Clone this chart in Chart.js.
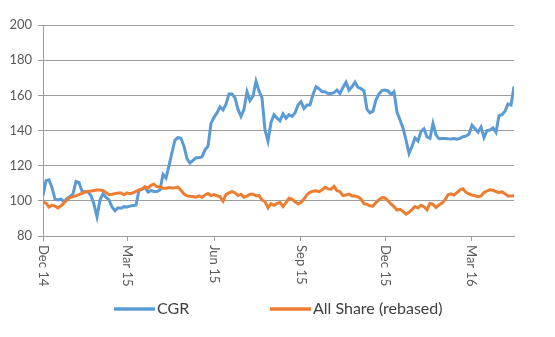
<!DOCTYPE html>
<html>
<head>
<meta charset="utf-8">
<script src="https://cdn.jsdelivr.net/npm/chart.js@4/dist/chart.umd.min.js"></script>
<style>
  html, body { margin: 0; padding: 0; background: #fff; }
</style>
</head>
<body>
<canvas id="myChart" width="555" height="337"></canvas>
<script>
'use strict'

// CGR vs All Share, rebased to 100 at Dec 14 (one point every couple of trading days)
var cgr = [
  103, 111.5, 112, 107.5, 101, 100.5, 101, 99.5, 101.4, 102.4,
  104, 111, 110.5, 105.5, 105.3, 105, 103, 98, 91, 100.5,
  104, 102, 100.5, 96.5, 94.3, 96, 95.8, 96.7, 96.5, 97,
  97.3, 97.5, 106, 106.5, 107.7, 105, 105.8, 105.3, 105.3, 106.2,
  115, 113, 120, 127.5, 134.6, 136, 135.5, 131, 124, 121.5,
  123, 124.5, 124.5, 125, 129, 131, 144, 147.5, 150, 153.5,
  151.7, 155, 160.8, 160.8, 158.5, 152, 148, 152, 162, 157,
  159.5, 168, 162.5, 158.5, 140.3, 134, 144.5, 149, 147, 145.5,
  149.5, 147, 149, 148, 150, 154.5, 156.4, 152.5, 154.5, 154.5,
  160.5, 164.9, 163.8, 162, 162, 161, 161, 161.5, 163, 161,
  164.5, 167.5, 163, 164.9, 167.5, 164.5, 163.8, 162.5, 152, 150,
  151, 157.5, 160.8, 162.7, 163, 162.5, 160.5, 162, 150.5, 146,
  141.5, 134.6, 127, 131, 135.7, 134, 139.5, 141, 136.3, 135.5,
  144, 137.5, 135.3, 135.5, 135.5, 135.3, 135.2, 135.4, 135, 135.5,
  136.5, 136.8, 138, 143, 141, 139, 142, 136, 140, 140.3,
  141.5, 139, 148.5, 149, 151, 155, 154.5, 165
]

var allShare = [
  99.5, 98.6, 96.5, 97.5, 97, 96, 97.2, 98.8, 100.5, 101.8,
  102.4, 102.8, 103.6, 104.3, 105, 105.4, 105.6, 105.9, 106.2, 106.2,
  105.8, 104.8, 103.5, 103.7, 104.1, 104.5, 104.5, 103.5, 104.5, 104,
  104.5, 105.4, 106.2, 106.6, 108, 107.2, 108.8, 109.5, 108, 108,
  107.2, 107.1, 107.6, 107.3, 107.5, 107.8, 106, 103.8, 102.8, 102.6,
  102.5, 102.1, 102.8, 102, 103.3, 104.2, 103, 103.6, 102.9, 102.4,
  99.8, 103.5, 104.5, 105.2, 104.6, 103, 103.7, 102, 102.6, 103.8,
  103.8, 102.9, 103, 100.5, 99.5, 96, 98.4, 97.5, 98.5, 99,
  96.8, 99, 101.5, 101, 99.5, 98.3, 99, 101, 103.5, 104.8,
  105.5, 105.7, 105.2, 106.2, 107.7, 106.8, 106.6, 108.3, 105.8, 105.2,
  103, 103.3, 103.8, 102.8, 102.7, 102.3, 101, 98.4, 98, 97.2,
  97, 99, 100.7, 101.8, 101.6, 100, 98.2, 96.7, 94.8, 95.2,
  94, 92.4, 93.5, 95, 96.8, 96, 97.5, 96.7, 94.9, 98.6,
  98, 96.2, 97.6, 98.7, 100.5, 103.4, 104, 103.3, 104.7, 106.2,
  106.8, 104.8, 104, 103.3, 102.9, 102.4, 102.8, 104.7, 105.6, 106.3,
  106, 105.3, 104.7, 105.1, 104, 102.8, 102.8, 102.9
]

// quarter markers on the x axis (position in the series)
var tickPos = [0, 28.2, 57, 85.9, 114.2, 142.7]
var tickLabels = ['Dec 14', 'Mar 15', 'Jun 15', 'Sep 15', 'Dec 15', 'Mar 16']

var seriesNames = ['CGR', 'All Share (rebased)']
var seriesColors = ['#5B9BD5', '#ED7D31']

function toPoints(arr) {
  return arr.map(function(v, i) { return { x: i, y: v } })
}

var gridGrey = '#9d9d9d'
var textGrey = '#595959'

// x labels read top-to-bottom and the legend sits under them, so draw both by hand
var extrasPlugin = {
  id: 'extras',
  afterDraw: function(chart) {
    var ctx = chart.ctx
    var xs = chart.scales.x
    ctx.save()
    ctx.fillStyle = textGrey
    ctx.font = '13px Lato'
    ctx.textAlign = 'left'
    ctx.textBaseline = 'middle'
    tickPos.forEach(function(v, i) {
      ctx.save()
      ctx.translate(xs.getPixelForValue(v), chart.chartArea.bottom + 9)
      ctx.rotate(Math.PI / 2)
      ctx.fillText(tickLabels[i], 0, 0)
      ctx.restore()
    })

    var legendX = [114, 270]
    var legendY = 309
    ctx.font = '16px Lato'
    ctx.fillStyle = '#404040'
    seriesNames.forEach(function(name, i) {
      ctx.beginPath()
      ctx.strokeStyle = seriesColors[i]
      ctx.lineWidth = 3.5
      ctx.moveTo(legendX[i], legendY)
      ctx.lineTo(legendX[i] + 41, legendY)
      ctx.stroke()
      ctx.fillText(name, legendX[i] + 43, legendY)
    })
    ctx.restore()
  }
}

var ctx = document.getElementById('myChart').getContext('2d')
var chart = new Chart(ctx, {
  type: 'line',
  data: {
    datasets: [{
      label: seriesNames[0],
      data: toPoints(cgr),
      borderColor: seriesColors[0],
      borderWidth: 3,
      pointRadius: 0,
      order: 1
    },
    {
      label: seriesNames[1],
      data: toPoints(allShare),
      borderColor: seriesColors[1],
      borderWidth: 3,
      pointRadius: 0,
      order: 0
    }]
  },
  options: {
    responsive: false,
    devicePixelRatio: 1,
    animation: false,
    layout: { padding: { top: 25, right: 41, left: 0, bottom: 0 } },
    plugins: {
      legend: { display: false },
      tooltip: { enabled: false }
    },
    scales: {
      x: {
        type: 'linear',
        min: 0,
        max: cgr.length - 1,
        afterBuildTicks: function(s) {
          s.ticks = tickPos.map(function(v) { return { value: v } })
        },
        ticks: { display: false },
        grid: { drawOnChartArea: false, drawTicks: true, tickLength: 5, color: gridGrey },
        border: { color: gridGrey },
        afterFit: function(s) { s.height = 101 }
      },
      y: {
        min: 80,
        max: 200,
        ticks: {
          stepSize: 20,
          color: textGrey,
          padding: 6,
          font: { family: 'Lato', size: 13 }
        },
        grid: { color: gridGrey, tickLength: 5 },
        border: { color: gridGrey },
        afterFit: function(s) { s.width = 43 }
      }
    }
  },
  plugins: [extrasPlugin]
})
</script>
</body>
</html>
